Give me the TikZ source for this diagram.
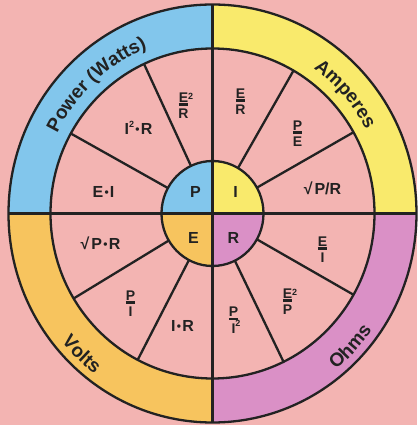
\documentclass[tikz,border=0pt]{standalone}
\usepackage{fontspec}
\setmainfont{Liberation Sans}
\usetikzlibrary{decorations.text}
\definecolor{bg}{HTML}{F3B4B2}
\definecolor{cblue}{HTML}{82C6EC}
\definecolor{cyel}{HTML}{F9EA6C}
\definecolor{corg}{HTML}{F7C45E}
\definecolor{cpur}{HTML}{DA90C6}
\definecolor{ink}{HTML}{222222}
\newcommand\ubar[1]{\setbox0\hbox{#1}\rlap{\rule[-3.6pt]{\wd0}{2.2pt}}\box0}
\newcommand\mul{\kern0.08em\raisebox{0.05em}{\fontsize{12}{12}\selectfont •}\kern0.08em}
\newcommand\bandfont{\fontsize{19}{19}\selectfont\bfseries}
\tikzset{
  x=1pt, y=1pt,
  line/.style={draw=ink, line width=2.3pt},
  lab/.style={font=\fontsize{16}{16}\selectfont\bfseries, text=ink, inner sep=0pt},
  fraclab/.style={font=\fontsize{14}{16.5}\selectfont\bfseries, text=ink, inner sep=0pt, align=center},
  core/.style={font=\fontsize{16}{16}\selectfont\bfseries, text=ink, inner sep=0pt},
  band/.style={decorate, decoration={text along path, text align=center, text color=ink}},
}
\begin{document}
\begin{tikzpicture}
\useasboundingbox (-212.5,-211.5) rectangle (204.5,213.5);
\fill[bg] (-212.5,-211.5) rectangle (204.5,213.5);
% band quadrants and core quadrants
\foreach \s/\c in {90/cblue,0/cyel,180/corg,270/cpur}{
  \pgfmathsetmacro\e{\s+90}
  \fill[\c] (\s:204 and 209) arc[start angle=\s,end angle=\e,x radius=204,y radius=209]
    -- (\e:162 and 165) arc[start angle=\e,end angle=\s,x radius=162,y radius=165] -- cycle;
  \fill[\c] (0,0) -- (\s:51 and 52.5) arc[start angle=\s,end angle=\e,x radius=51,y radius=52.5] -- cycle;
}
% spokes
\foreach \a in {151,115,60,29.5,-29.5,-64,211,242.5}
  \draw[line] (\a:51 and 52.5) -- (\a:162 and 165);
% cross
\draw[line] (0,209) -- (0,-209);
\draw[line] (-204,0) -- (204,0);
% circles
\draw[line] (0,0) ellipse[x radius=204,y radius=209];
\draw[line] (0,0) ellipse[x radius=162,y radius=165];
\draw[line] (0,0) ellipse[x radius=51,y radius=52.5];
% band labels
\path[band, decoration={text={|\bandfont|Power (Watts)}}]
  (167:174 and 178.5) arc[start angle=167,end angle=98,x radius=174,y radius=178.5];
\path[band, decoration={text={|\bandfont|Amperes}}]
  (76:174 and 178.5) arc[start angle=76,end angle=7,x radius=174,y radius=178.5];
\path[band, decoration={text={|\bandfont|Volts}}]
  (193:196 and 201) arc[start angle=193,end angle=260,x radius=196,y radius=201];
\path[band, decoration={text={|\bandfont|Ohms}}]
  (283:196 and 201) arc[start angle=283,end angle=350,x radius=196,y radius=201];
% core letters
\node[core] (cP) at (-17,21.5) {P};
\node[core] (cI) at (23,21.5) {I};
\node[core] (cE) at (-19,-24.5) {E};
\node[core] (cR) at (21,-24.5) {R};
% formulas
\node[fraclab] (f1) at (-29,108) {\ubar{E}\rlap{\raisebox{0.15em}{\fontsize{9}{9}\selectfont 2}}\\R};
\node[lab] (f2) at (-74,85.5) {I\raisebox{0.45em}{\fontsize{9}{9}\selectfont 2}\mul R};
\node[lab] (f3) at (-109,22) {E\mul I};
\node[fraclab] (f4) at (28,112) {\ubar{E}\\R};
\node[fraclab] (f5) at (85,80) {\ubar{P}\\E};
\node[lab] (f6) at (110,25.5) {√\kern0.12em P/R};
\node[lab] (f7) at (-112,-29.5) {√\kern0.12em P\mul R};
\node[fraclab] (f8) at (-82,-90) {\ubar{P}\\I};
\node[lab] (f9) at (-30,-112) {I\mul R};
\node[fraclab] (f10) at (110,-36) {\ubar{E}\\I};
\node[fraclab] (f11) at (75,-88) {\ubar{E}\rlap{\raisebox{0.15em}{\fontsize{9}{9}\selectfont 2}}\\P};
\node[fraclab] (f12) at (21,-106.5) {\ubar{P}\\I\rlap{\raisebox{0.45em}{\fontsize{9}{9}\selectfont 2}}};
\end{tikzpicture}
\end{document}
